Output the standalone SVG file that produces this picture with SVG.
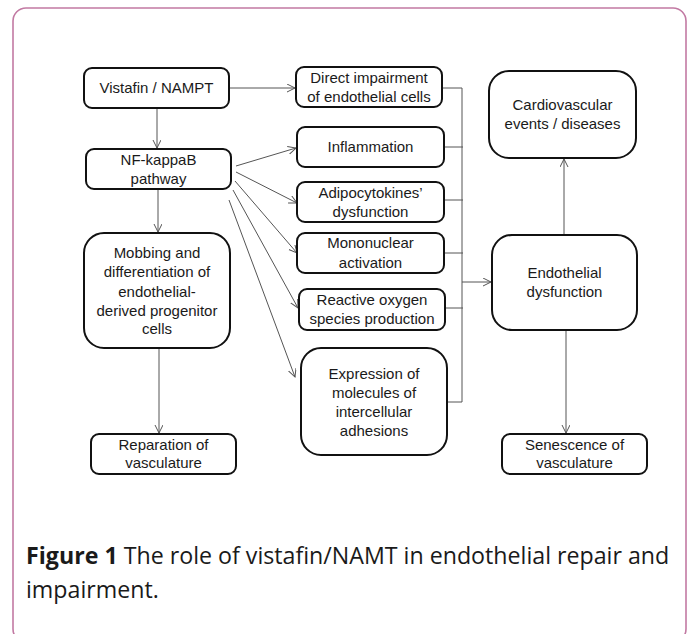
<svg xmlns="http://www.w3.org/2000/svg" width="688" height="634" viewBox="0 0 688 634">
<defs>
<style>
.box{fill:#fff;stroke:#111;stroke-width:2}
.t{font-family:"Liberation Sans",Arial,sans-serif;font-size:15px;fill:#1a1a1a;text-anchor:middle}
.c{fill:none;stroke:#555;stroke-width:1}
.cap{font-family:"Open Sans","Liberation Sans",sans-serif;font-size:23.2px;fill:#1a1a1a}
</style>
<marker id="arr" markerWidth="10" markerHeight="10" refX="8" refY="4" orient="auto" markerUnits="userSpaceOnUse">
<path d="M0,0 L8,4 L0,8" fill="none" stroke="#555" stroke-width="1"/>
</marker>
</defs>
<rect x="13" y="8" width="673" height="634" rx="13" fill="#fff" stroke="#c27aa3" stroke-width="1.6"/>

<g id="connectors">
<path class="c" d="M229,88 H295" marker-end="url(#arr)"/>
<path class="c" d="M157,108 V148" marker-end="url(#arr)"/>
<path class="c" d="M158,190 V232" marker-end="url(#arr)"/>
<path class="c" d="M159,348 V433" marker-end="url(#arr)"/>
<path class="c" d="M236,166 L296,148" marker-end="url(#arr)"/>
<path class="c" d="M236,172 L297,203" marker-end="url(#arr)"/>
<path class="c" d="M235,181 L297,253" marker-end="url(#arr)"/>
<path class="c" d="M233,190 L298,308" marker-end="url(#arr)"/>
<path class="c" d="M229,200 L295,377" marker-end="url(#arr)"/>
<path class="c" d="M442,88 H462 V402 H447"/>
<path class="c" d="M444,147 H463 M444,200 H463 M444,253 H463 M445,308 H463"/>
<path class="c" d="M462,282 H491" marker-end="url(#arr)"/>
<path class="c" d="M564,235 V159" marker-end="url(#arr)"/>
<path class="c" d="M566,330 V433" marker-end="url(#arr)"/>
</g>

<g id="vistafin"><rect class="box" x="84" y="68" width="145" height="40" rx="8"/><text class="t" x="156.5" y="93">Vistafin / NAMPT</text></g>
<g id="direct"><rect class="box" x="296" y="67" width="146" height="40" rx="8"/><text class="t" x="369" y="83">Direct impairment</text><text class="t" x="369" y="102">of endothelial cells</text></g>
<g id="nfkb"><rect class="box" x="86" y="149" width="145" height="40" rx="8"/><text class="t" x="158.5" y="165">NF-kappaB</text><text class="t" x="158.5" y="184">pathway</text></g>
<g id="inflammation"><rect class="box" x="297" y="127" width="147" height="40" rx="8"/><text class="t" x="370.5" y="152">Inflammation</text></g>
<g id="adipo"><rect class="box" x="297" y="182" width="147" height="40" rx="8"/><text class="t" x="370.5" y="198">Adipocytokines’</text><text class="t" x="370.5" y="217">dysfunction</text></g>
<g id="mononuclear"><rect class="box" x="297" y="233" width="147" height="40" rx="8"/><text class="t" x="370.5" y="248">Mononuclear</text><text class="t" x="370.5" y="268">activation</text></g>
<g id="ros"><rect class="box" x="299" y="289" width="146" height="41" rx="8"/><text class="t" x="372" y="305">Reactive oxygen</text><text class="t" x="372" y="324">species production</text></g>
<g id="expression"><rect class="box" x="301" y="348" width="146" height="107" rx="20"/><text class="t" x="374" y="379">Expression of</text><text class="t" x="374" y="398">molecules of</text><text class="t" x="374" y="417">intercellular</text><text class="t" x="374" y="436">adhesions</text></g>
<g id="mobbing"><rect class="box" x="84" y="233" width="146" height="115" rx="20"/><text class="t" x="157" y="258">Mobbing and</text><text class="t" x="157" y="277">differentiation of</text><text class="t" x="157" y="297">endothelial-</text><text class="t" x="157" y="316">derived progenitor</text><text class="t" x="157" y="334">cells</text></g>
<g id="reparation"><rect class="box" x="91" y="434" width="145" height="40" rx="8"/><text class="t" x="163.5" y="450">Reparation of</text><text class="t" x="163.5" y="468">vasculature</text></g>
<g id="cardio"><rect class="box" x="489" y="71" width="147" height="87" rx="20"/><text class="t" x="562.5" y="110">Cardiovascular</text><text class="t" x="562.5" y="129">events / diseases</text></g>
<g id="endo"><rect class="box" x="492" y="235" width="145" height="95" rx="20"/><text class="t" x="564.5" y="278">Endothelial</text><text class="t" x="564.5" y="297">dysfunction</text></g>
<g id="senescence"><rect class="box" x="502" y="434" width="145" height="40" rx="8"/><text class="t" x="574.5" y="450">Senescence of</text><text class="t" x="574.5" y="468">vasculature</text></g>

<g id="caption">
<text class="cap" x="26" y="564"><tspan font-weight="bold">Figure 1</tspan> The role of vistafin/NAMT in endothelial repair and</text>
<text class="cap" x="26" y="598">impairment.</text>
</g>
</svg>
